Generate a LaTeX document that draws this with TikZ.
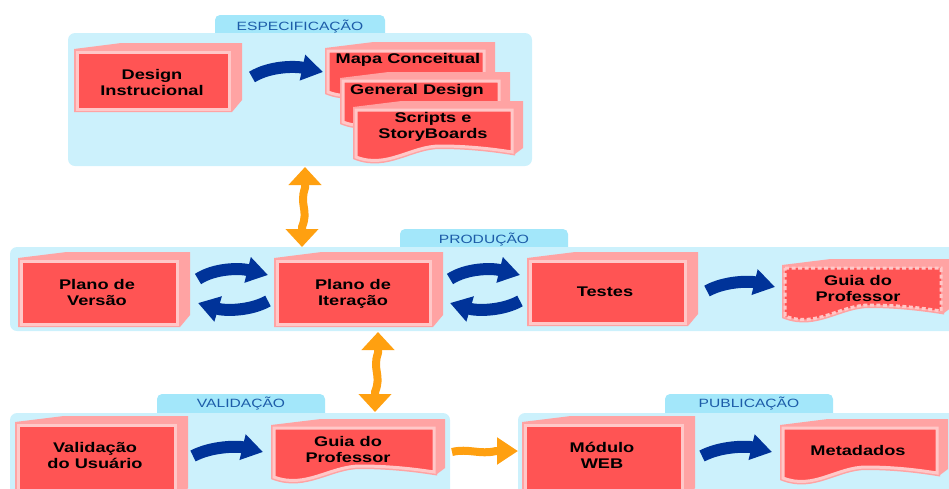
\documentclass[tikz,border=0pt]{standalone}
\usepackage{fontspec}
\setmainfont[FakeStretch=1.3]{Liberation Sans}
\usetikzlibrary{arrows.meta}
\definecolor{panel}{RGB}{204,241,252}
\definecolor{tabc}{RGB}{163,231,250}
\definecolor{tabtxt}{RGB}{28,92,168}
\definecolor{rd}{RGB}{255,84,84}
\definecolor{pk}{RGB}{255,163,163}
\definecolor{lpk}{RGB}{255,200,200}
\definecolor{bl}{RGB}{0,51,153}
\definecolor{og}{RGB}{255,160,16}
\tikzset{
 lbl/.style={font=\bfseries\fontsize{14}{16}\selectfont, align=center, text=black, inner sep=0pt},
 tablbl/.style={font=\fontsize{12}{14}\selectfont, text=tabtxt, inner sep=0pt, anchor=base},
 barrow/.style={draw=bl, line width=12pt, -{Triangle[length=21pt,width=25pt]}},
 ovarrow/.style={draw=og, line width=8pt, line join=round, {Triangle[length=18pt,width=32pt]}-{Triangle[length=18pt,width=32pt]}},
 oharrow/.style={draw=og, line width=8pt, line join=round, -{Triangle[length=21pt,width=26pt]}},
}
\newcommand{\cubebox}[8]{%
 \fill[pk] (#2,#3) -- ({#2+0.3*(#4-#2)},{#3-6}) -- ({#4+10},{#3-6}) -- ({#4+10},{#5-12}) -- (#4,#5) -- (#2,#5) -- cycle;
 \path[draw=pk,line width=6pt] ({#2+3},{#3+3}) rectangle ({#4-3},{#5-3});
 \path[fill=rd,draw=lpk,line width=3pt] ({#2+3},{#3+3}) rectangle ({#4-3},{#5-3});
 \node[lbl] (#1) at (#7,#8) {#6};
}
\newcommand{\docpath}[5]{\path[#1] (#2,#3) -- (#4,#3) -- (#4,{#5-5}) .. controls ({#4-0.12*(#4-#2)},{#5-8}) and ({#2+0.72*(#4-#2)},{#5-11}) .. ({#2+0.54*(#4-#2)},{#5-11}) .. controls ({#2+0.35*(#4-#2)},{#5-11}) and ({#2+0.2*(#4-#2)},{#5+12}) .. (#2,#5) -- cycle;}
\newcommand{\docbox}[9]{%
 \fill[pk] (#2,#3) -- ({#2+0.3*(#4-#2)},{#3-6}) -- ({#4+8},{#3-6}) -- ({#4+8},{#5-12}) -- (#4,{#5-6}) -- (#4,#3) -- cycle;
 \pgfmathsetmacro{\dbXa}{#2+3}\pgfmathsetmacro{\dbYa}{#3+3}\pgfmathsetmacro{\dbXb}{#4-3}\pgfmathsetmacro{\dbYb}{#5-3}
 \docpath{draw=pk,line width=6pt}{\dbXa}{\dbYa}{\dbXb}{\dbYb}
 \docpath{fill=rd}{\dbXa}{\dbYa}{\dbXb}{\dbYb}
 \docpath{draw=lpk,line width=3pt,#6}{\dbXa}{\dbYa}{\dbXb}{\dbYb}
 \node[lbl] (#1) at (#8,#9) {#7};
}
\begin{document}
\begin{tikzpicture}[x=1pt,y=-1pt]
\useasboundingbox (0,0) rectangle (949,488);
\clip (0,0) rectangle (949,488);
% panels
\fill[tabc,rounded corners=5pt] (215,15) rectangle (385,40);
\fill[panel,rounded corners=7pt] (68,33) rectangle (532,166);
\node[tablbl] (tspec) at (300,30) {ESPECIFICAÇÃO};
\fill[tabc,rounded corners=5pt] (400,229) rectangle (568,254);
\fill[panel,rounded corners=7pt] (10,247) rectangle (970,331);
\node[tablbl] (tprod) at (484,243) {PRODUÇÃO};
\fill[tabc,rounded corners=5pt] (157,394) rectangle (325,420);
\fill[panel,rounded corners=7pt] (10,413) rectangle (450,510);
\node[tablbl] (tval) at (241,407.5) {VALIDAÇÃO};
\fill[tabc,rounded corners=5pt] (665,394) rectangle (833,420);
\fill[panel,rounded corners=7pt] (518,413) rectangle (970,510);
\node[tablbl] (tpub) at (749,407.5) {PUBLICAÇÃO};
% boxes
\cubebox{di}{74}{49}{232}{112}{Design\\Instrucional}{152}{82}
\docbox{mc}{325}{48}{487}{95}{}{Mapa Conceitual}{408}{59.5}
\docbox{gd}{340}{78}{502}{125}{}{General Design}{417}{91}
\docbox{sb}{353}{107}{515}{160}{}{Scripts e\\StoryBoards}{433}{127}
\cubebox{pv}{18}{258}{180}{327}{Plano de\\Versão}{97}{292.5}
\cubebox{pi}{274}{258}{433}{327}{Plano de\\Iteração}{353}{294}
\cubebox{te}{527}{258}{688}{326}{Testes}{605}{292}
\docbox{gp}{782}{265}{944}{319}{dash pattern=on 4pt off 2.5pt}{Guia do\\Professor}{858}{288.5}
\cubebox{vu}{15}{422}{178}{500}{Validação\\do Usuário}{95}{455.5}
\docbox{gv}{271}{425}{437}{480}{}{Guia do\\Professor}{348}{449.5}
\cubebox{mw}{522}{422}{685}{500}{Módulo\\WEB}{602}{455.5}
\docbox{md}{780}{425}{940}{481}{}{Metadados}{858}{450.5}
% arrow ends
\coordinate (b1s) at (252,77);  \coordinate (b1e) at (323,72);
\coordinate (b2s) at (198,279); \coordinate (b2e) at (268,275);
\coordinate (b3s) at (268,301); \coordinate (b3e) at (198,303);
\coordinate (b4s) at (450,279); \coordinate (b4e) at (520,275);
\coordinate (b5s) at (520,301); \coordinate (b5e) at (450,303);
\coordinate (b6s) at (707,291); \coordinate (b6e) at (775,287);
\coordinate (b7s) at (193,456); \coordinate (b7e) at (263,452);
\coordinate (b8s) at (702,456); \coordinate (b8e) at (772,452);
\coordinate (o1s) at (305,167); \coordinate (o1e) at (302,247);
\coordinate (o2s) at (378,332); \coordinate (o2e) at (375,412);
\coordinate (o3s) at (452,452); \coordinate (o3e) at (518,451);
% blue arrows
\draw[barrow] (b1s) .. controls (270,66) and (295,66) .. (b1e);
\draw[barrow] (b2s) .. controls (215,268) and (240,268) .. (b2e);
\draw[barrow] (b3s) .. controls (250,311) and (225,311) .. (b3e);
\draw[barrow] (b4s) .. controls (467,268) and (492,268) .. (b4e);
\draw[barrow] (b5s) .. controls (502,311) and (477,311) .. (b5e);
\draw[barrow] (b6s) .. controls (725,281) and (750,281) .. (b6e);
\draw[barrow] (b7s) .. controls (212,446) and (238,446) .. (b7e);
\draw[barrow] (b8s) .. controls (721,446) and (747,446) .. (b8e);
% orange arrows
\draw[ovarrow] (o1s) -- (305,188) .. controls (299,205) and (309,210) .. (302,227) -- (o1e);
\draw[ovarrow] (o2s) -- (378,353) .. controls (372,370) and (382,375) .. (375,392) -- (o2e);
\draw[oharrow] (o3s) .. controls (468,448) and (480,455) .. (496,451) -- (o3e);
\end{tikzpicture}
\end{document}
